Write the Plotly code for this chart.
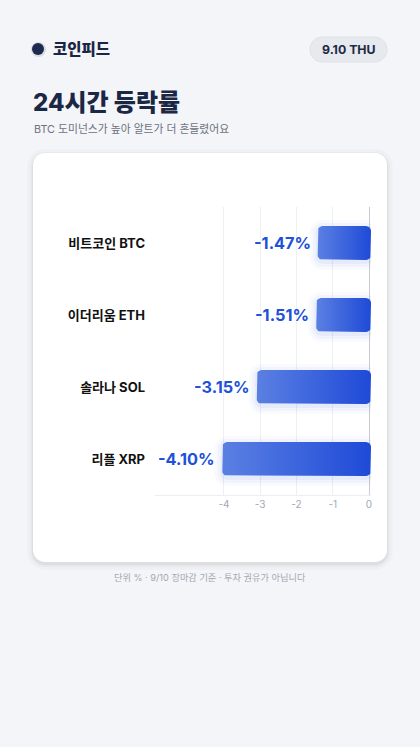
import plotly.graph_objects as go
import numpy as np

# ---- data ----
coins = ["비트코인 BTC", "이더리움 ETH", "솔라나 SOL", "리플 XRP"]
changes = [-1.47, -1.51, -3.15, -4.10]
x_ticks = [-4, -3, -2, -1, 0]

# ---- layout geometry (pixels) ----
W, H = 420, 747
L, R, T, B = 155, 371, 207, 495
PW, PH = R - L, B - T
XR = [-5.9, 0.055]
YR = [3.5, -0.5]
FONT = "Inter, 'Noto Sans CJK KR', sans-serif"


def px(x):
    return (x - L) / PW


def py(y):
    return (B - y) / PH


def rrect_path(x0, y0, x1, y1, r, n=8):
    """Rounded rect in pixel coords -> SVG path in paper coords."""
    pts = []
    corners = [(x1 - r, y0 + r, -90), (x1 - r, y1 - r, 0), (x0 + r, y1 - r, 90), (x0 + r, y0 + r, 180)]
    for cx, cy, a0 in corners:
        for k in range(n + 1):
            a = np.radians(a0 + 90 * k / n)
            pts.append((cx + r * np.cos(a), cy + r * np.sin(a)))
    d = "M " + " L ".join(f"{px(a):.5f},{py(b):.5f}" for a, b in pts) + " Z"
    return d


# units per pixel
ux = (XR[1] - XR[0]) / PW
uy = (YR[0] - YR[1]) / PH
BAR_DX = 2  # px: bars sit slightly right of the zero line


def bar_poly(v, i, half_px=17, rad_px=5, grow_px=0, dy_px=0, n=6):
    off = BAR_DX * ux
    x0, x1 = v + off - grow_px * ux, 0 + off + grow_px * ux
    yc = i + dy_px * uy
    hy = (half_px + grow_px) * uy
    rx, ry = (rad_px + grow_px) * ux, (rad_px + grow_px) * uy
    xs, ys = [], []
    corners = [(x1 - rx, yc - hy + ry, -90), (x1 - rx, yc + hy - ry, 0),
               (x0 + rx, yc + hy - ry, 90), (x0 + rx, yc - hy + ry, 180)]
    for cx, cy, a0 in corners:
        for k in range(n + 1):
            a = np.radians(a0 + 90 * k / n)
            xs.append(cx + rx * np.cos(a))
            ys.append(cy + ry * np.sin(a))
    xs.append(xs[0]); ys.append(ys[0])
    return xs, ys


fig = go.Figure()

# bar glow
for i, v in enumerate(changes):
    for g, op in [(8, 0.03), (5, 0.045), (2, 0.06)]:
        xs, ys = bar_poly(v, i, grow_px=g, dy_px=2)
        fig.add_trace(go.Scatter(x=xs, y=ys, mode="lines", fill="toself",
                                 line=dict(width=0), fillcolor=f"rgba(70,110,235,{op})",
                                 hoverinfo="skip", showlegend=False))

# bars with horizontal gradient
for i, v in enumerate(changes):
    xs, ys = bar_poly(v, i)
    fig.add_trace(go.Scatter(
        x=xs, y=ys, mode="lines", fill="toself", line=dict(width=0),
        fillgradient=dict(type="horizontal",
                          colorscale=[[0, "#5b80e3"], [1, "#1e4ad7"]]),
        hoverinfo="skip", showlegend=False))

# value labels
for i, v in enumerate(changes):
    fig.add_annotation(x=v, y=i, xref="x", yref="y", text=f"{v:.2f}%",
                       showarrow=False, xanchor="right", yanchor="middle", xshift=-5 + BAR_DX,
                       font=dict(family=FONT, size=16.3, color="#2150d9", weight=700))

shapes = []
# card shadow + card
for g, op in [(6, 0.018), (3, 0.03), (1, 0.05)]:
    shapes.append(dict(type="path", xref="paper", yref="paper", layer="below",
                       path=rrect_path(33 - g, 153 - g + 2, 387 + g, 562 + g + 2, 12 + g),
                       fillcolor=f"rgba(15,23,42,{op})", line=dict(width=0)))
shapes.append(dict(type="path", xref="paper", yref="paper", layer="below",
                   path=rrect_path(33, 153, 387, 562, 12),
                   fillcolor="#ffffff", line=dict(width=0)))
# date pill
shapes.append(dict(type="path", xref="paper", yref="paper", layer="below",
                   path=rrect_path(310, 37, 387, 62, 12.5),
                   fillcolor="#e6e9ee", line=dict(color="#dde1e7", width=1)))
# dot shadow + dot
shapes.append(dict(type="circle", xref="paper", yref="paper", layer="below",
                   x0=px(31), x1=px(46), y0=py(57), y1=py(42),
                   fillcolor="rgba(30,43,79,0.12)", line=dict(width=0)))
shapes.append(dict(type="circle", xref="paper", yref="paper", layer="below",
                   x0=px(32), x1=px(44), y0=py(55), y1=py(43),
                   fillcolor="#1e2b50", line=dict(width=0)))

anns = [
    dict(text="코인피드", x=px(51), y=py(49), xanchor="left", yanchor="middle",
         font=dict(family=FONT, size=15.5, color="#1a2744", weight=800)),
    dict(text="9.10 THU", x=px(348.5), y=py(49.5), xanchor="center", yanchor="middle",
         font=dict(family=FONT, size=12.3, color="#1e2a44", weight=700)),
    dict(text="24시간 등락률", x=px(31), y=py(102), xanchor="left", yanchor="middle",
         font=dict(family=FONT, size=24, color="#1a2745", weight=800)),
    dict(text="BTC 도미넌스가 높아 알트가 더 흔들렸어요", x=px(32), y=py(129),
         xanchor="left", yanchor="middle",
         font=dict(family=FONT, size=10.8, color="#6b7280")),
    dict(text="단위 % · 9/10 장마감 기준 · 투자 권유가 아닙니다", x=px(210), y=py(577),
         xanchor="center", yanchor="middle",
         font=dict(family=FONT, size=9.2, color="#a3a8b2")),
]
for a in anns:
    a.update(xref="paper", yref="paper", showarrow=False)
    fig.add_annotation(**a)

fig.update_layout(
    width=W, height=H,
    margin=dict(l=L, r=W - R, t=T, b=H - B, pad=0),
    paper_bgcolor="#f4f5f8", plot_bgcolor="rgba(0,0,0,0)",
    shapes=shapes, showlegend=False,
    font=dict(family=FONT),
    xaxis=dict(range=XR, tickvals=x_ticks, ticktext=[str(t) for t in x_ticks],
               showgrid=True, gridcolor="#eef0f3", gridwidth=1,
               zeroline=True, zerolinecolor="#c9cdd3", zerolinewidth=1,
               showline=True, linecolor="#eceef1", linewidth=1,
               ticks="", tickfont=dict(family=FONT, size=10, color="#a3a9b3"),
               fixedrange=True),
    yaxis=dict(range=YR, tickvals=list(range(len(coins))), ticktext=coins,
               showgrid=False, zeroline=False, showline=False, ticks="",
               ticklabelstandoff=9,
               tickfont=dict(family=FONT, size=13, color="#111111", weight=700),
               fixedrange=True),
)

fig.write_html("out.html", config={"displayModeBar": False},
               post_script="document.body.style.margin='0';document.body.style.background='#f4f5f8';document.body.style.overflow='hidden';")
